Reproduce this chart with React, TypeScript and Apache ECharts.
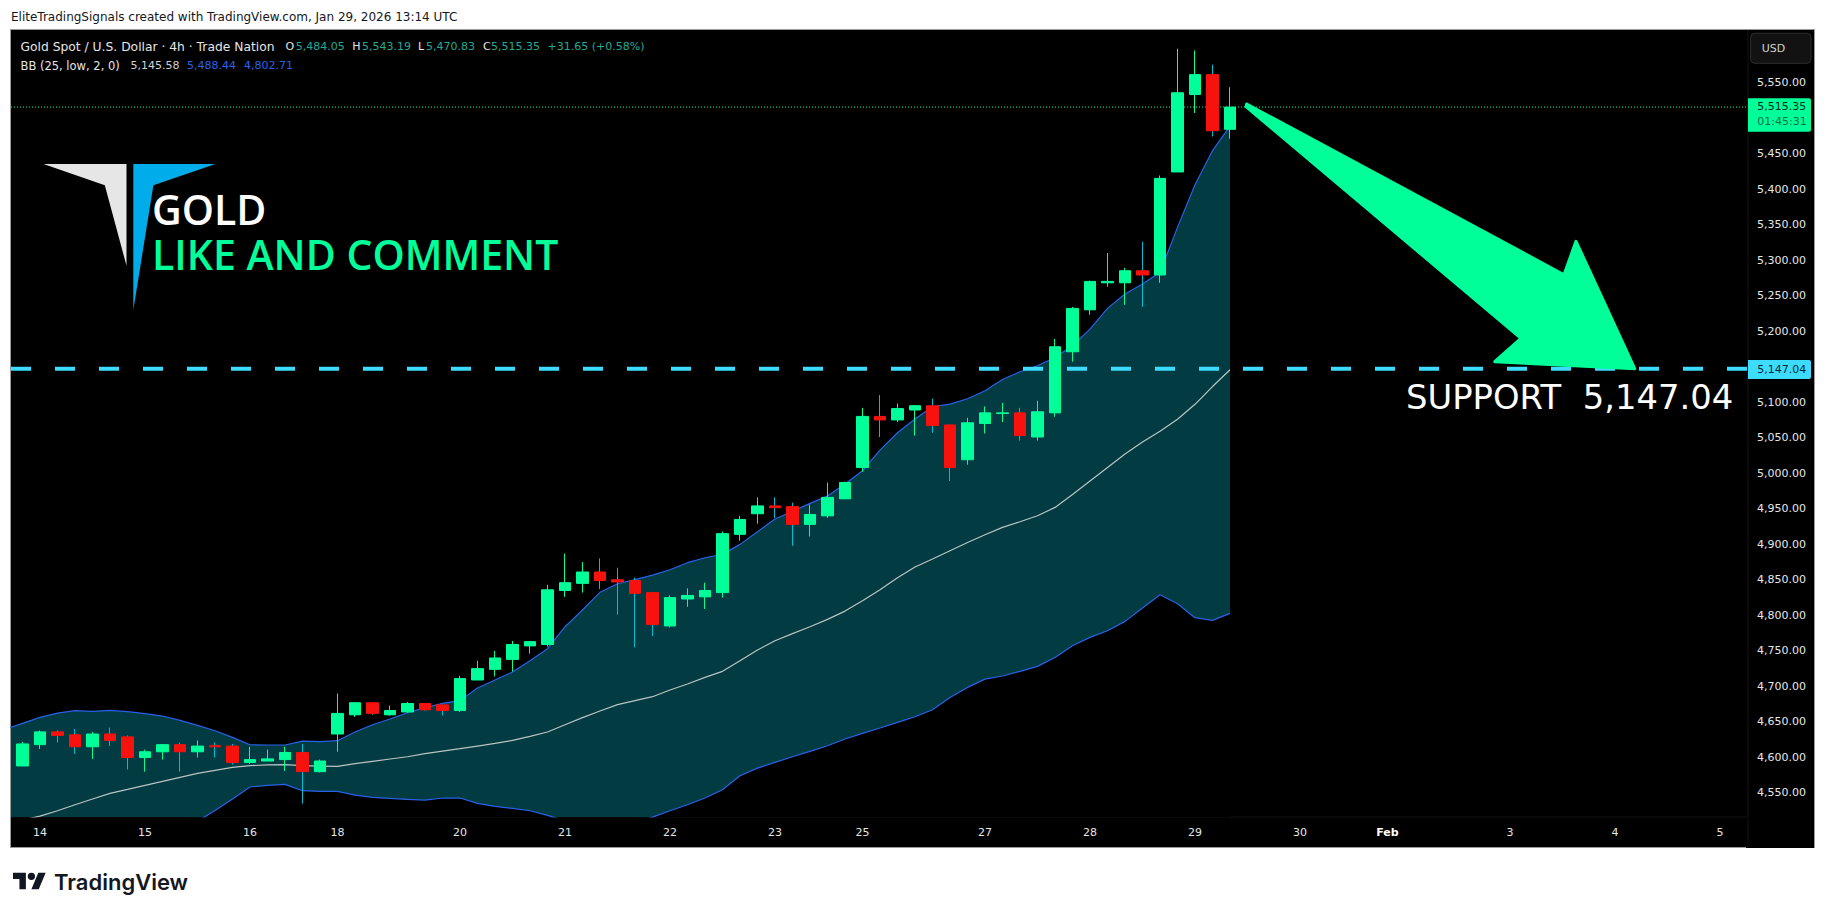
// App.tsx - gold 4h candles with bollinger bands
import React, { useEffect, useRef } from "react";
import * as echarts from "echarts";

const opens = [4588, 4618, 4636, 4632, 4615, 4633, 4629, 4600, 4608, 4618, 4608, 4616.5, 4616, 4593, 4595, 4597, 4607, 4580, 4633, 4660, 4677, 4660, 4664, 4676, 4674, 4666, 4709, 4724, 4738, 4757, 4759, 4835, 4845, 4861, 4850, 4849, 4832, 4785, 4823, 4826, 4832, 4914, 4943, 4954, 4953, 4928, 4940, 4964, 5008, 5080, 5075, 5089, 5095, 5068, 5019, 5070, 5084, 5085, 5051, 5085, 5171, 5230, 5268, 5268, 5285, 5279, 5424, 5533, 5561, 5484.05];
const closes = [4619, 4636, 4631, 4615, 4633, 4624, 4600, 4608, 4618, 4608, 4616, 4615, 4593, 4597, 4598, 4607, 4580, 4595, 4662, 4677, 4662, 4666, 4676, 4667, 4666, 4711, 4725, 4740, 4759, 4763, 4836, 4846, 4861, 4849, 4847, 4831, 4787, 4825, 4828, 4835, 4915, 4935, 4954, 4951.5, 4928, 4942, 4966, 4987, 5080, 5075, 5091, 5095, 5067, 5008, 5071, 5085, 5085, 5053, 5086.5, 5178, 5232, 5270, 5270, 5285, 5279, 5415, 5535.5, 5561, 5482, 5515.35];
const lows = [4588, 4612, 4621, 4605, 4598, 4616, 4583, 4580, 4597, 4580, 4600, 4600, 4590, 4591, 4595, 4581, 4535, 4579, 4608, 4657, 4660, 4659, 4663, 4666, 4659, 4664, 4709, 4714, 4721, 4746, 4756, 4826, 4832, 4837, 4801, 4755, 4771, 4783, 4812, 4809, 4825, 4905, 4929, 4937, 4898, 4911, 4937, 4964, 5002, 5051, 5072, 5053, 5057, 4989, 5012, 5056, 5072, 5046, 5046, 5079.5, 5157, 5223, 5262.5, 5237, 5234, 5268, 5424, 5507, 5474, 5470.83];
const highs = [4622, 4638, 4638, 4640, 4636, 4642, 4631, 4611, 4619, 4621, 4624, 4621, 4619, 4615, 4611, 4615, 4619, 4597, 4690, 4677, 4677, 4673, 4678, 4676, 4674, 4715, 4736, 4750, 4764, 4764, 4843, 4887, 4875, 4880, 4867, 4853, 4833, 4828, 4838, 4846, 4918, 4940, 4966, 4966, 4958.5, 4956, 4987, 4988, 5092, 5110, 5098, 5096, 5105, 5068, 5078, 5094, 5099, 5092, 5102, 5189, 5234, 5271, 5310, 5289, 5326, 5419, 5597.5, 5595, 5575, 5543.19];

// bollinger values start one bar before the first candle, off the left edge
const upperBand = [4639.5, 4648, 4656.4, 4662.5, 4665.8, 4664.9, 4666.3, 4664.4, 4661.6, 4658.3, 4652.2, 4645.1, 4637.6, 4628.3, 4617.9, 4617.5, 4617.5, 4623.1, 4622.2, 4623.6, 4635.8, 4646.1, 4654.1, 4663, 4670, 4676, 4680, 4697.7, 4709, 4720.2, 4736.2, 4753.1, 4784, 4807.5, 4832.4, 4844.5, 4850.2, 4856.7, 4864.2, 4874.1, 4881.1, 4885.8, 4899.9, 4917.7, 4935.6, 4946.3, 4957.6, 4968, 4985, 5003.5, 5032.6, 5057, 5076.2, 5093.6, 5097.3, 5104.8, 5116, 5132, 5142.8, 5151.3, 5163, 5179.5, 5202.9, 5232, 5252.2, 5266.3, 5282.7, 5346, 5406, 5453.9, 5488.44];
const basisBand = [4506.3, 4511.9, 4517.5, 4525, 4533.5, 4541.5, 4549.4, 4555, 4560.7, 4566.3, 4572, 4577.6, 4581.8, 4586, 4588.4, 4589.6, 4589.8, 4588.4, 4587.9, 4587.4, 4591.2, 4594.5, 4597.8, 4601, 4605.3, 4609, 4612.3, 4616, 4619.8, 4624, 4629.7, 4635.8, 4646, 4656, 4665.4, 4674.3, 4679.9, 4685.5, 4694.9, 4703.4, 4712.7, 4721.2, 4736.2, 4751.2, 4764.3, 4774.2, 4784, 4794.3, 4806, 4820.6, 4836, 4853, 4868, 4879.2, 4890.9, 4902.6, 4913.4, 4923.8, 4931.7, 4940.2, 4951.9, 4970, 4989, 5008, 5027, 5044, 5059, 5076, 5097, 5122, 5145.58];
const lowerBand = [4373, 4376, 4379, 4388, 4401, 4418, 4432, 4446, 4460, 4474, 4492, 4510, 4525.5, 4541.5, 4558.4, 4560.7, 4562.1, 4553.2, 4552.3, 4552.3, 4547.1, 4543.8, 4542.4, 4541, 4540, 4542.9, 4542.9, 4535.4, 4531.1, 4528.3, 4525, 4518.5, 4511, 4507, 4503, 4502, 4507, 4516.1, 4525, 4533.5, 4542.9, 4554.6, 4574.3, 4585, 4593, 4601, 4608.5, 4616.5, 4626, 4633.9, 4641.4, 4649.4, 4657.3, 4667.2, 4684.5, 4698.6, 4710.3, 4714.6, 4721.1, 4728.2, 4740.8, 4757.3, 4769, 4778.4, 4791.5, 4810.3, 4829, 4816.4, 4796.7, 4792.9, 4802.71];

const priceTicks = [5550, 5450, 5400, 5350, 5300, 5250, 5200, 5100, 5050, 5000, 4950, 4900, 4850, 4800, 4750, 4700, 4650, 4600, 4550];
const dateBars = [1, 7, 13, 18, 25, 31, 37, 43, 48, 55, 61, 67, 73, 78, 85, 91, 97];
const dateLabels = ["14", "15", "16", "18", "20", "21", "22", "23", "25", "27", "28", "29", "30", "Feb", "3", "4", "5"];

const lastPrice = 5515.35;
const supportPrice = 5147.04;

const GREEN = "#00ff99";
const RED = "#f7120d";
const WICK_DOWN = "#00bcd4";
const BLUE = "#2962e8";
const BAND = "#023b42";
const CYAN = "#3ddcff";
const FONT = '"DejaVu Sans"';

const X_MIN = -0.657;
const X_MAX = 98.6;

echarts.graphic.registerShape(
  "tvMark",
  echarts.graphic.extendPath("M14 22H7V11H0V4h14v18zM28 22h-8l7.5-18h8L28 22zM24 8a4 4 0 1 1-8 0a4 4 0 0 1 8 0z", {})
);

const label = (x: number, y: number, text: string, fill: string, size = 11, extra: any = {}) => ({
  type: "text",
  z: 20,
  style: { x, y, text, fill, font: `${extra.weight || "normal"} ${size}px ${extra.family || FONT}`, textAlign: extra.align || "left", textVerticalAlign: "middle" },
});

const App = () => {
  const chartRef = useRef<HTMLDivElement>(null);

  useEffect(() => {
    if (!chartRef.current) return;
    const chart = echarts.init(chartRef.current, undefined, { renderer: "svg" });

    const bars = opens.map((_, i) => i);
    const bandX = upperBand.map((_, i) => i - 1);

    const options: any = {
      animation: false,
      backgroundColor: "#ffffff",
      grid: { left: 11, right: 78, top: 30, bottom: 97 },
      xAxis: {
        type: "value",
        min: X_MIN,
        max: X_MAX,
        splitLine: { show: false },
        axisLine: { show: false },
        axisTick: { show: false },
        axisLabel: {
          customValues: dateBars,
          margin: 10,
          color: "#e6e6e6",
          fontFamily: FONT,
          fontSize: 11,
          formatter: (v: number) => {
            const text = dateLabels[dateBars.indexOf(v)];
            return text === "Feb" ? `{b|${text}}` : text;
          },
          rich: { b: { fontWeight: "bold", fontFamily: FONT, fontSize: 11, color: "#ffffff" } },
        },
      },
      yAxis: {
        type: "value",
        position: "right",
        min: 4516.2,
        max: 5623.8,
        splitLine: { show: false },
        axisLine: { show: false },
        axisTick: { show: false },
        axisLabel: {
          customValues: priceTicks,
          margin: 9,
          color: "#e6e6e6",
          fontFamily: FONT,
          fontSize: 11,
          formatter: (v: number) => v.toLocaleString("en-US", { minimumFractionDigits: 2 }),
        },
      },
      series: [
        // band: teal down from the upper line, then black down from the lower line
        {
          type: "line",
          z: 1,
          symbol: "none",
          lineStyle: { width: 0 },
          areaStyle: { color: BAND, opacity: 1, origin: "start" },
          data: bandX.map((x, i) => [x, upperBand[i]]),
        },
        {
          type: "line",
          z: 1,
          symbol: "none",
          lineStyle: { width: 0 },
          areaStyle: { color: "#000000", opacity: 1, origin: "start" },
          data: bandX.map((x, i) => [x, lowerBand[i]]),
        },
        {
          type: "line",
          z: 2,
          symbol: "none",
          lineStyle: { width: 1.2, color: BLUE },
          data: bandX.map((x, i) => [x, lowerBand[i]]),
        },
        {
          type: "line",
          z: 2,
          symbol: "none",
          lineStyle: { width: 1.2, color: BLUE },
          data: bandX.map((x, i) => [x, upperBand[i]]),
        },
        {
          type: "line",
          z: 2,
          symbol: "none",
          lineStyle: { width: 1.2, color: "#b9c4c4" },
          data: bandX.map((x, i) => [x, basisBand[i]]),
        },
        {
          type: "line",
          z: 2,
          symbol: "none",
          lineStyle: { width: 1, color: GREEN, type: [1, 2] },
          data: [[X_MIN, lastPrice], [X_MAX, lastPrice]],
        },
        // wicks first, red candles have a cyan wick
        {
          type: "candlestick",
          z: 3,
          barWidth: 1,
          itemStyle: { color: GREEN, color0: WICK_DOWN, borderColor: GREEN, borderColor0: WICK_DOWN, borderWidth: 1 },
          data: bars.map((i) => [i, opens[i], closes[i], lows[i], highs[i]]),
        },
        {
          type: "candlestick",
          z: 4,
          barWidth: 12,
          itemStyle: { color: GREEN, color0: RED, borderColor: GREEN, borderColor0: RED, borderWidth: 1 },
          data: bars.map((i) => [i, opens[i], closes[i], Math.min(opens[i], closes[i]), Math.max(opens[i], closes[i])]),
        },
        {
          type: "line",
          z: 5,
          symbol: "none",
          lineStyle: { width: 4, color: CYAN, type: [20, 24] },
          data: [[X_MIN, supportPrice], [X_MAX, supportPrice]],
        },
      ],
      graphic: {
        elements: [
          { type: "rect", z: -2, shape: { x: 10, y: 29, width: 1805, height: 819 }, style: { fill: "#9a9a9a" } },
          { type: "rect", z: -1, shape: { x: 11, y: 30, width: 1803, height: 817 }, style: { fill: "#000000" } },
          { type: "rect", z: -1, shape: { x: 1746, y: 817, width: 68, height: 31 }, style: { fill: "#000000" } },
          { type: "line", z: -1, shape: { x1: 1748, y1: 30, x2: 1748, y2: 847 }, style: { stroke: "#131313", lineWidth: 1 } },
          { type: "line", z: -1, shape: { x1: 11, y1: 817, x2: 1748, y2: 817 }, style: { stroke: "#131313", lineWidth: 1 } },

          label(11, 17, "EliteTradingSignals created with TradingView.com, Jan 29, 2026 13:14 UTC", "#131722", 12),

          label(20.5, 46.7, "Gold Spot / U.S. Dollar · 4h · Trade Nation", "#e6e6e6", 12.3),
          label(285.5, 46.7, "O", "#e6e6e6"),
          label(295.8, 46.7, "5,484.05", "#22ab94"),
          label(352.3, 46.7, "H", "#e6e6e6"),
          label(362, 46.7, "5,543.19", "#22ab94"),
          label(418, 46.7, "L", "#e6e6e6"),
          label(426, 46.7, "5,470.83", "#22ab94"),
          label(483, 46.7, "C", "#e6e6e6"),
          label(491, 46.7, "5,515.35", "#22ab94"),
          label(547.6, 46.7, "+31.65 (+0.58%)", "#22ab94"),
          label(20.5, 65.7, "BB (25, low, 2, 0)", "#e6e6e6", 11.5),
          label(130.5, 65.7, "5,145.58", "#d0d0d0"),
          label(187, 65.7, "5,488.44", BLUE),
          label(244, 65.7, "4,802.71", BLUE),

          { type: "polygon", z: 10, shape: { points: [[43.5, 164], [126.5, 164], [126.5, 265.7], [104.8, 185.3]] }, style: { fill: "#e6e6e6" } },
          { type: "polygon", z: 10, shape: { points: [[133.3, 164], [215.5, 164], [153.4, 185.3], [133.3, 310]] }, style: { fill: "#00adea" } },
          label(152, 208.5, "GOLD", "#ffffff", 41, { family: '"Open Sans"', weight: 600 }),
          label(152, 254, "LIKE AND COMMENT", GREEN, 41, { family: '"Open Sans"', weight: 600 }),
          label(1406, 397.5, "SUPPORT  5,147.04", "#ffffff", 33.8),

          {
            type: "polygon",
            z: 12,
            shape: { points: [[1246.7, 104], [1564, 274.7], [1576, 241.3], [1634.7, 368.7], [1494.7, 361.7], [1521, 338.3], [1246, 106.7]] },
            style: { fill: GREEN, stroke: GREEN, lineWidth: 3, lineJoin: "round" },
          },

          { type: "rect", z: 15, shape: { x: 1750.7, y: 33.3, width: 60.3, height: 30, r: 4 }, style: { fill: "#121212", stroke: "#2e2e2e", lineWidth: 1 } },
          label(1761.7, 48.5, "USD", "#d0d0d0"),

          { type: "rect", z: 15, shape: { x: 1748, y: 98.3, width: 63, height: 33.4, r: [0, 2, 2, 0] }, style: { fill: GREEN } },
          label(1757.3, 106.7, "5,515.35", "#0a2a20"),
          label(1757.3, 121.7, "01:45:31", "#0b6e4c"),

          { type: "rect", z: 15, shape: { x: 1748, y: 360, width: 63, height: 19, r: [0, 2, 2, 0] }, style: { fill: CYAN } },
          label(1757.3, 369, "5,147.04", "#0a2a30"),

          { type: "tvMark", z: 15, x: 13, y: 869, scaleX: 0.92, scaleY: 0.92, style: { fill: "#131722" } },
          label(54, 882, "TradingView", "#131722", 22, { family: "Inter", weight: 600 }),
        ],
      },
    };

    chart.setOption(options);

    return () => {
      chart.dispose();
    };
  }, []);

  return <div ref={chartRef} style={{ position: "fixed", left: 0, top: 0, width: "1826px", height: "914px" }} />;
};

export default App;
